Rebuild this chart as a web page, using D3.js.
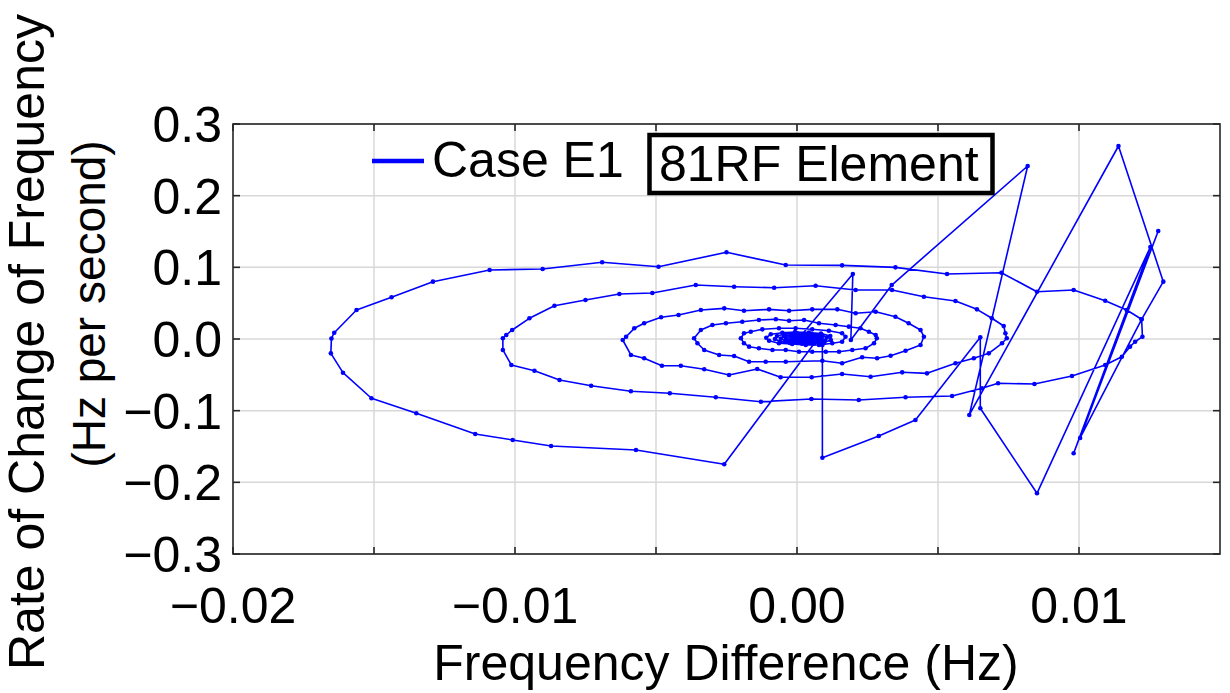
<!DOCTYPE html>
<html>
<head>
<meta charset="utf-8">
<script src="https://cdn.jsdelivr.net/npm/d3@7"></script>
<style>
body { margin: 0; background: #fff; }
text { font-family: "Liberation Sans", Arial, sans-serif; fill: #000; }
</style>
</head>
<body>
<div id="canvas"></div>
<script>
"use strict"

/* values: [frequency difference (Hz), ROCOF (Hz/s)] */
let settledStart = [[0, 0], [0.00011, -0.0014], [-0.00004, 0.0028], [0.00007, 0.0014]];

let disturbance = [
  [0.00198, 0.0907], [0.00191, -0.0014], [0.00336, 0.0753], [0.00818, 0.2414],
  [0.00611, -0.1060], [0.01140, 0.2693], [0.01299, 0.0800], [0.01222, 0.0275],
  [0.01004, -0.1381], [0.01281, 0.1507], [0.00981, -0.1595], [0.01253, 0.1284],
  [0.00851, -0.2153], [0.00650, -0.0967], [0.00650, 0.0024], [0.00420, -0.1130],
  [0.00290, -0.1353], [0.00090, -0.1656], [0.00090, -0.0084], [0.00042, 0.0042],
  [0.00078, 0.0028], [-0.00258, -0.1748]
];

let swingOuter = [
  [-0.00571, -0.1549], [-0.00872, -0.1493], [-0.01008, -0.1409], [-0.01141, -0.1326],
  [-0.01350, -0.1037], [-0.01509, -0.0827], [-0.01610, -0.0470], [-0.01653, -0.0200],
  [-0.01651, 0.0007], [-0.01641, 0.0088], [-0.01562, 0.0405], [-0.01438, 0.0582],
  [-0.01291, 0.0800], [-0.01090, 0.0963], [-0.00902, 0.0977], [-0.00691, 0.1070],
  [-0.00491, 0.1009], [-0.00250, 0.1210], [-0.00040, 0.1033], [0.00160, 0.1028],
  [0.00349, 0.1000], [0.00532, 0.0907], [0.00725, 0.0925], [0.00851, 0.0660],
  [0.00981, 0.0684], [0.01093, 0.0534], [0.01169, 0.0405], [0.01222, 0.0275],
  [0.01225, 0.0032], [0.01199, -0.0038], [0.01181, -0.0107], [0.01152, -0.0247],
  [0.01093, -0.0363], [0.00975, -0.0516], [0.00842, -0.0628], [0.00713, -0.0618],
  [0.00656, -0.0688], [0.00550, -0.0795], [0.00385, -0.0813], [0.00219, -0.0851],
  [0.00051, -0.0837], [-0.00128, -0.0875], [-0.00288, -0.0813], [-0.00451, -0.0758],
  [-0.00589, -0.0730], [-0.00730, -0.0652], [-0.00842, -0.0572], [-0.00931, -0.0442],
  [-0.01013, -0.0363], [-0.01043, -0.0153], [-0.01043, 0.0010], [-0.01031, 0.0056],
  [-0.01010, 0.0126], [-0.00949, 0.0289], [-0.00860, 0.0465], [-0.00750, 0.0544],
  [-0.00630, 0.0628], [-0.00513, 0.0642], [-0.00359, 0.0753], [-0.00223, 0.0730],
  [-0.00081, 0.0716], [0.00066, 0.0744], [0.00208, 0.0684], [0.00337, 0.0684],
  [0.00450, 0.0590], [0.00562, 0.0530], [0.00638, 0.0414], [0.00691, 0.0289],
  [0.00733, 0.0181], [0.00739, 0.0080], [0.00744, 0.0010], [0.00727, -0.0060],
  [0.00680, -0.0200], [0.00627, -0.0269], [0.00562, -0.0339], [0.00461, -0.0479],
  [0.00373, -0.0465], [0.00261, -0.0526], [0.00160, -0.0488], [0.00052, -0.0534],
  [-0.00058, -0.0534], [-0.00141, -0.0419], [-0.00241, -0.0502], [-0.00329, -0.0423],
  [-0.00412, -0.0373], [-0.00479, -0.0373], [-0.00542, -0.0269], [-0.00589, -0.0223],
  [-0.00618, -0.0014]
];

let swingInner = [
  [-0.00606, 0.0032], [-0.00577, 0.0149], [-0.00542, 0.0219], [-0.00482, 0.0303],
  [-0.00420, 0.0335], [-0.00341, 0.0405], [-0.00258, 0.0428], [-0.00188, 0.0395],
  [-0.00099, 0.0414], [-0.00028, 0.0395], [0.00054, 0.0414], [0.00143, 0.0414],
  [0.00208, 0.0359], [0.00279, 0.0381], [0.00349, 0.0311], [0.00396, 0.0219],
  [0.00438, 0.0126], [0.00450, 0.0032], [0.00438, -0.0084], [0.00385, -0.0163],
  [0.00332, -0.0233], [0.00284, -0.0269], [0.00231, -0.0255], [0.00160, -0.0339],
  [0.00090, -0.0303], [-0.00040, -0.0317], [-0.00111, -0.0317], [-0.00170, -0.0317],
  [-0.00223, -0.0237], [-0.00276, -0.0223], [-0.00329, -0.0153], [-0.00353, -0.0060],
  [-0.00365, 0.0010], [-0.00341, 0.0126], [-0.00300, 0.0195], [-0.00252, 0.0219],
  [-0.00194, 0.0241], [-0.00135, 0.0265], [-0.00075, 0.0275], [-0.00028, 0.0255],
  [0.00025, 0.0265], [0.00078, 0.0219], [0.00137, 0.0195], [0.00184, 0.0172],
  [0.00225, 0.0149], [0.00255, 0.0102], [0.00279, 0.0056], [0.00283, 0.0010],
  [0.00273, -0.0060], [0.00243, -0.0130], [0.00196, -0.0153], [0.00149, -0.0177],
  [0.00102, -0.0177], [0.00054, -0.0177], [0.00007, -0.0177], [-0.00040, -0.0153],
  [-0.00087, -0.0153], [-0.00135, -0.0130], [-0.00170, -0.0107], [-0.00188, -0.0060],
  [-0.00199, 0.0010], [-0.00188, 0.0080], [-0.00164, 0.0102], [-0.00123, 0.0135],
  [-0.00064, 0.0149], [-0.00005, 0.0149], [0.00054, 0.0135], [0.00113, 0.0116],
  [0.00160, 0.0080], [0.00172, 0.0032], [0.00160, -0.0038], [0.00125, -0.0060],
  [0.00078, -0.0084], [0.00031, -0.0084], [-0.00017, -0.0070], [-0.00064, -0.0060],
  [-0.00099, -0.0024], [-0.00109, 0.0018], [-0.00093, 0.0066], [-0.00052, 0.0088]
];

let settledEnd = [
  [-0.00007, 0.0098], [0.00042, 0.0091], [0.00085, 0.0077], [0.00118, 0.0042],
  [0.00120, -0.0014], [0.00096, -0.0049], [0.00060, -0.0063], [0.00018, -0.0066],
  [-0.00025, -0.0056], [-0.00060, -0.0035], [-0.00078, 0.0000], [-0.00071, 0.0042],
  [-0.00042, 0.0070], [0.00000, 0.0080], [0.00046, 0.0077], [0.00088, 0.0056],
  [0.00106, 0.0021], [0.00099, -0.0021], [0.00071, -0.0042], [0.00035, -0.0056],
  [-0.00004, -0.0049], [-0.00042, -0.0028], [-0.00057, 0.0007], [-0.00046, 0.0042],
  [-0.00014, 0.0060], [0.00028, 0.0063], [0.00067, 0.0049], [0.00088, 0.0021],
  [0.00085, -0.0014], [0.00060, -0.0035], [0.00025, -0.0042], [-0.00011, -0.0035],
  [-0.00035, -0.0014], [-0.00039, 0.0014], [-0.00021, 0.0042], [0.00011, 0.0049],
  [0.00046, 0.0042], [0.00071, 0.0021], [0.00074, -0.0007], [0.00053, -0.0028],
  [0.00021, -0.0035], [-0.00007, -0.0021], [-0.00021, 0.0000], [-0.00011, 0.0028],
  [0.00018, 0.0035], [0.00046, 0.0028], [0.00057, 0.0007], [0.00046, -0.0014],
  [0.00021, -0.0021], [0.00004, -0.0007], [0.00007, 0.0014], [0.00028, 0.0021],
  [0.00039, 0.0007], [0.00028, -0.0007], [0.00014, 0.0000], [0.00021, 0.0007]
];

let xGridValues = [-0.015, -0.01, -0.005, 0, 0.005, 0.01];
let xTickValues = [-0.02, -0.01, 0, 0.01];
let xTickLabels = ["\u22120.02", "\u22120.01", "0.00", "0.01"];
let yTickValues = [-0.3, -0.2, -0.1, 0, 0.1, 0.2, 0.3];
let yTickLabels = ["\u22120.3", "\u22120.2", "\u22120.1", "0.0", "0.1", "0.2", "0.3"];

let trajectory = settledStart.concat(disturbance, swingOuter, swingInner, settledEnd);

let drawing = d3.select("#canvas")
    .append("svg")
    .attr("width", 1230)
    .attr("height", 693);

let x = d3.scaleLinear().domain([-0.02, 0.015]).range([233, 1220]);
let y = d3.scaleLinear().domain([-0.3, 0.3]).range([554, 124]);

/* grid */
drawing.selectAll(".vgrid").data(xGridValues).enter().append("line")
    .attr("x1", d => x(d)).attr("x2", d => x(d))
    .attr("y1", 124).attr("y2", 554)
    .attr("stroke", "#d8d8d8").attr("stroke-width", 1.5);

drawing.selectAll(".hgrid").data(yTickValues).enter().append("line")
    .attr("x1", 233).attr("x2", 1220)
    .attr("y1", d => y(d)).attr("y2", d => y(d))
    .attr("stroke", "#d8d8d8").attr("stroke-width", 1.5);

/* the trajectory */
let path = d3.line().x(d => x(d[0])).y(d => y(d[1]));

drawing.append("path")
    .attr("d", path(trajectory))
    .attr("fill", "none")
    .attr("stroke", "#0000ff")
    .attr("stroke-width", 1.6)
    .attr("stroke-linejoin", "round");

drawing.selectAll(".pt").data(trajectory).enter().append("circle")
    .attr("cx", d => x(d[0]))
    .attr("cy", d => y(d[1]))
    .attr("r", 2.3)
    .attr("fill", "#0000ff");

/* frame and inward ticks */
let frame = drawing.append("rect")
    .attr("x", 233).attr("y", 124)
    .attr("width", 987).attr("height", 430)
    .attr("fill", "none")
    .attr("stroke", "#262626")
    .attr("stroke-width", 1.6);

let tickX = xGridValues.concat([-0.02]);
drawing.selectAll(".tb").data(tickX).enter().append("line")
    .attr("x1", d => x(d)).attr("x2", d => x(d))
    .attr("y1", 554).attr("y2", 547)
    .attr("stroke", "#262626").attr("stroke-width", 1.6);
drawing.selectAll(".tt").data(tickX).enter().append("line")
    .attr("x1", d => x(d)).attr("x2", d => x(d))
    .attr("y1", 124).attr("y2", 131)
    .attr("stroke", "#262626").attr("stroke-width", 1.6);
drawing.selectAll(".tl").data(yTickValues).enter().append("line")
    .attr("x1", 233).attr("x2", 240)
    .attr("y1", d => y(d)).attr("y2", d => y(d))
    .attr("stroke", "#262626").attr("stroke-width", 1.6);
drawing.selectAll(".tr").data(yTickValues).enter().append("line")
    .attr("x1", 1220).attr("x2", 1213)
    .attr("y1", d => y(d)).attr("y2", d => y(d))
    .attr("stroke", "#262626").attr("stroke-width", 1.6);

/* tick labels */
drawing.selectAll(".xl").data(xTickValues).enter().append("text")
    .attr("x", d => x(d))
    .attr("y", 623)
    .attr("text-anchor", "middle")
    .attr("font-size", 50)
    .text((d, i) => xTickLabels[i]);

drawing.selectAll(".yl").data(yTickValues).enter().append("text")
    .attr("x", 222)
    .attr("y", d => y(d) + 18)
    .attr("text-anchor", "end")
    .attr("font-size", 50)
    .text((d, i) => yTickLabels[i]);

/* axis titles */
drawing.append("text")
    .attr("x", 726).attr("y", 680)
    .attr("text-anchor", "middle")
    .attr("font-size", 50)
    .text("Frequency Difference (Hz)");

drawing.append("text")
    .attr("transform", "translate(44,342) rotate(-90)")
    .attr("text-anchor", "middle")
    .attr("font-size", 50)
    .text("Rate of Change of Frequency");

drawing.append("text")
    .attr("transform", "translate(105,304) rotate(-90)")
    .attr("text-anchor", "middle")
    .attr("font-size", 46)
    .text("(Hz per second)");

/* legend */
drawing.append("line")
    .attr("x1", 372).attr("x2", 424)
    .attr("y1", 161).attr("y2", 161)
    .attr("stroke", "#0000ff").attr("stroke-width", 4.5);

drawing.append("text")
    .attr("x", 432).attr("y", 177)
    .attr("font-size", 50)
    .text("Case E1");

/* annotation box */
drawing.append("rect")
    .attr("x", 649.5).attr("y", 135)
    .attr("width", 343).attr("height", 58)
    .attr("fill", "#fff")
    .attr("stroke", "#000")
    .attr("stroke-width", 4.5);

drawing.append("text")
    .attr("x", 659).attr("y", 181)
    .attr("font-size", 50)
    .text("81RF Element");
</script>
</body>
</html>
